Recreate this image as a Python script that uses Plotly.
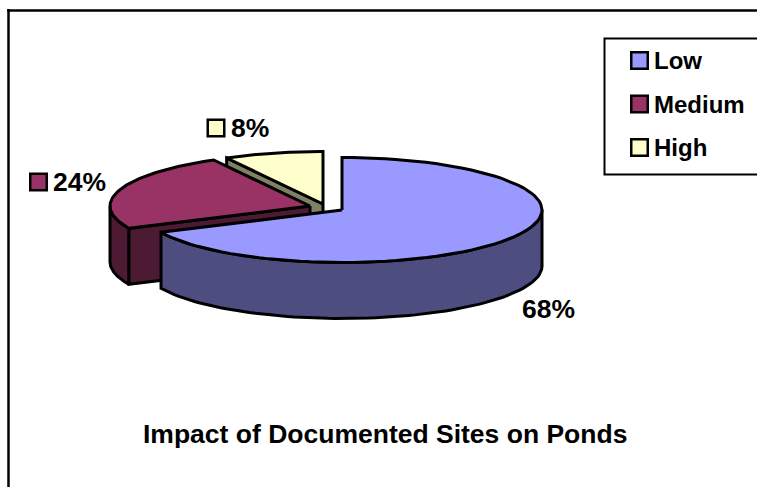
import numpy as np
import plotly.graph_objects as go

categories = ["Low", "Medium", "High"]
values = [68, 24, 8]
title_text = "Impact of Documented Sites on Ponds"

top_colors = ["#9999FF", "#993366", "#FFFFCC"]
side_colors = ["#4D4D80", "#4D1A33", "#808066"]

W, H = 757, 487
RX, RY, DEPTH = 200, 52.5, 56
centers = [(342, 210), (310, 206), (323, 204)]   # exploded slice apexes
FONT = "Liberation Sans, Arial, sans-serif"
LW = 3

fig = go.Figure()


def arc(c, a0, a1, n=80):
    t = np.radians(np.linspace(a0, a1, n))
    return c[0] + RX * np.sin(t), c[1] - RY * np.cos(t)


def poly(x, y, color):
    fig.add_trace(go.Scatter(
        x=np.append(x, x[0]), y=np.append(y, y[0]), mode="lines", fill="toself",
        fillcolor=color, line=dict(color="black", width=LW),
        hoverinfo="skip", showlegend=False))


cum = np.cumsum([0] + values) / sum(values) * 360
a0s, a1s = cum[:-1], cum[1:]

# draw back to front: High, Medium, Low
for i in [2, 1, 0]:
    c, a0, a1 = centers[i], a0s[i], a1s[i]
    # outer wall (front-facing part of the rim, clockwise angle 90..270)
    lo, hi = max(a0, 90), min(a1, 270)
    if lo < hi:
        x, y = arc(c, lo, hi)
        poly(np.r_[x, x[::-1]], np.r_[y, y[::-1] + DEPTH], side_colors[i])
    # radial wall on the leading edge of slices left of centre
    if i > 0:
        ex, ey = arc(c, a0, a0, 1)
        poly(np.r_[c[0], ex, ex, c[0]],
             np.r_[c[1], ey, ey + DEPTH, c[1] + DEPTH], side_colors[i])
    # top face
    x, y = arc(c, a0, a1)
    poly(np.r_[c[0], x], np.r_[c[1], y], top_colors[i])

annotations = []


def text(x, y, s, size, anchor="left"):
    annotations.append(dict(x=x, y=y, xref="x", yref="y", text=f"<b>{s}</b>", showarrow=False,
                            xanchor=anchor, yanchor="middle",
                            font=dict(family=FONT, size=size, color="black")))


def swatch(x, y, color):
    fig.add_trace(go.Scatter(
        x=[x], y=[y], mode="markers", hoverinfo="skip", showlegend=False,
        marker=dict(symbol="square", size=16.5, color=color, line=dict(color="black", width=2.5))))


# legend
legend_rows = [60.5, 104, 147.5]
for name, col, ry in zip(categories, top_colors, legend_rows):
    swatch(639.5, ry, col)
    text(652, ry, name, 24)

# data labels
label_pos = [(None, 548, 309), (38.5, 51, 182), (216, 229, 128)]
for v, col, (sx, tx, ty) in zip(values, top_colors, label_pos):
    if sx is None:
        text(tx, ty, f"{v}%", 26.5, "center")
    else:
        swatch(sx, ty, col)
        text(tx, ty, f"{v}%", 26.5)

text(385, 434, title_text, 26.5, "center")

shapes = [
    dict(type="line", xref="x", yref="y", x0=8.5, x1=8.5, y0=9, y1=H + 2, line=dict(color="black", width=2.5)),
    dict(type="line", xref="x", yref="y", x0=7, x1=W + 2, y0=10.5, y1=10.5, line=dict(color="black", width=2.5)),
    dict(type="rect", xref="x", yref="y", x0=604.5, x1=W + 5, y0=38.5, y1=174.5, line=dict(color="black", width=2), fillcolor="white", layer="below"),
]

fig.update_layout(
    width=W, height=H, margin=dict(l=0, r=0, t=0, b=0), autosize=False,
    paper_bgcolor="white", plot_bgcolor="white", showlegend=False,
    xaxis=dict(range=[0, W], visible=False, fixedrange=True),
    yaxis=dict(range=[H, 0], visible=False, fixedrange=True),
    annotations=annotations, shapes=shapes,
)
fig.write_html("out.html", config={"displayModeBar": False},
               post_script="document.body.style.margin='0';document.body.style.overflow='hidden';")
